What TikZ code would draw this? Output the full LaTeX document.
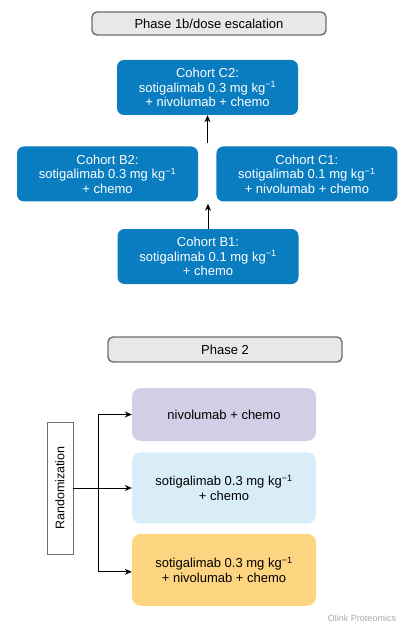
\documentclass[tikz,border=0pt]{standalone}
\usepackage{fontspec}
\setmainfont{Liberation Sans}
\usepackage{tikz}
\usetikzlibrary{positioning, arrows, arrows.meta}
\definecolor{cohortblue}{HTML}{0A7DC1}
\definecolor{phasegray}{HTML}{E8E8E8}
\definecolor{phaseline}{HTML}{6E6E6E}
\definecolor{armviolet}{HTML}{D3CEE6}
\definecolor{armsky}{HTML}{D8EDF8}
\definecolor{armorange}{HTML}{FDD47F}
\tikzset{
    x=1pt, y=1pt, % one unit is one pixel of the page
    >={Stealth[length=7pt, width=6pt]}, % makes the arrow heads bold
    every node/.style={font=\fontsize{13}{14.5}\selectfont, align=center}, % text of every node
    phase/.style={draw=phaseline, fill=phasegray, line width=1.4pt, rounded corners=5pt, minimum width=234, minimum height=23},
    cohort/.style={fill=cohortblue, text=white, rounded corners=7pt, minimum width=181, minimum height=55},
    arm/.style={rounded corners=9pt, minimum width=184},
}
\newcommand{\perkg}{mg kg\textsuperscript{−1}}

\begin{document}
\begin{tikzpicture}[
                                flow/.style={draw, ->, line width=0.8pt},
                                node distance=18,
                            ]
                            \useasboundingbox (0,0) rectangle (414,-636);
                            % phase 1b
                            \node[phase] (ph1) at (209,-23.5) {Phase 1b/dose escalation};
                            \node[cohort] (cC2) at (207.5,-87.5) {Cohort C2:\\sotigalimab 0.3 \perkg\\+ nivolumab + chemo};
                            \node[cohort] (cB2) at (107.5,-174) {Cohort B2:\\sotigalimab 0.3 \perkg\\+ chemo};
                            \node[cohort, right=of cB2] (cC1) {Cohort C1:\\sotigalimab 0.1 \perkg\\+ nivolumab + chemo};
                            \node[cohort] (cB1) at (208,-256.5) {Cohort B1:\\sotigalimab 0.1 \perkg\\+ chemo};
                            \path
                            (cB1.north) edge[flow] ([yshift=-2]cB1.north |- cB2.south)
                            ([yshift=3]cC2.south |- cB2.north) edge[flow] (cC2.south);
                            % phase 2
                            \node[phase, minimum height=25] (ph2) at (225,-349.5) {Phase 2};
                            \node[arm, fill=armviolet, minimum height=53] (aNivo) at (224,-414.5) {nivolumab + chemo};
                            \node[arm, fill=armsky, minimum height=71, below=11 of aNivo] (aSoti) {sotigalimab 0.3 \perkg\\+ chemo};
                            \node[arm, fill=armorange, minimum height=72, below=10 of aSoti] (aBoth) {sotigalimab 0.3 \perkg\\+ nivolumab + chemo};
                            \node[draw=phaseline, fill=white, minimum width=26, minimum height=132] (rand) at (60,-488) {\rotatebox{90}{\fontsize{12.5}{14}\selectfont Randomization}};
                            \coordinate (split) at (98,-488);
                            \path
                            (rand.east) edge[flow] (rand.east -| aSoti.west)
                            (split |- aNivo.west) edge[flow] (aNivo.west)
                            ([yshift=-2]split |- aBoth.west) edge[flow] ([yshift=-2]aBoth.west);
                            \draw[line width=0.8pt] (split |- aNivo.west) -- ([yshift=-2]split |- aBoth.west);
                            \node[text=black!35, font=\fontsize{9}{10}\selectfont] (mark) at (362,-618) {Olink Proteomics};
                        \end{tikzpicture}
\end{document}
